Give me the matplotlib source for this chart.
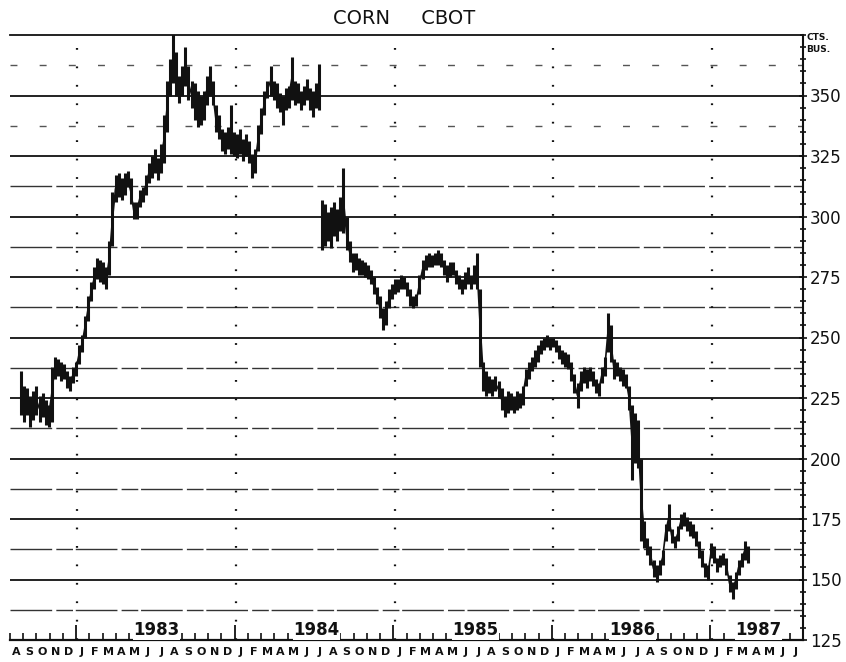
import numpy as np
import pandas as pd
import matplotlib
matplotlib.use("Agg")
import matplotlib.pyplot as plt
import matplotlib.transforms as mtransforms
from matplotlib.ticker import MultipleLocator, FixedLocator

# ---------------- data (weekly high/low, cents per bushel) ----------------
first_week = "1982-08-27"
axis_origin = "1982-08-01"
roll_after_week = 98          # July 1984 contract roll (gap in the line)

lows = [
    218, 215, 218, 213, 216, 218, 215, 217, 214, 213,
    215, 233, 234, 232, 233, 229, 228, 231, 234, 239,
    244, 250, 257, 265, 270, 274, 273, 272, 270, 276,
    288, 306, 308, 307, 309, 312, 305, 299, 299, 304,
    306, 309, 314, 316, 318, 315, 318, 322, 335, 350,
    355, 350, 347, 350, 354, 348, 345, 340, 337, 338,
    340, 346, 350, 346, 335, 332, 327, 326, 328, 326,
    325, 324, 326, 323, 325, 322, 316, 318, 327, 334,
    342, 349, 350, 348, 345, 343, 338, 344, 345, 348,
    346, 347, 344, 346, 348, 344, 341, 345, 344,
    # after July 1984 roll
    286, 288, 290, 287, 292, 290, 294, 293, 286, 281,
    277, 278, 276, 276, 275, 274, 272, 268, 264, 258,
    253, 255, 262, 266, 268, 269, 270, 270, 267, 263,
    262, 263, 268, 274, 278, 279, 279, 280, 280, 279,
    276, 273, 275, 276, 272, 270, 268, 270, 272, 270,
    272, 270,
    # after July 1985
    238, 228, 226, 227, 226, 228, 225, 220, 217, 219,
    220, 219, 220, 221, 222, 230, 233, 236, 238, 240,
    243, 245, 246, 245, 246, 244, 241, 239, 238, 237,
    232, 227, 221, 228, 231, 229, 232, 230, 227, 226,
    231, 234, 244, 240, 233, 234, 232, 230, 229, 220,
    191, 198, 196, 166, 163, 160, 156, 151, 149, 152,
    156, 166, 170, 165, 163, 166, 171, 172, 170, 168,
    167, 164, 159, 155, 151, 150, 159, 157, 153, 155,
    156, 152, 145, 142, 146, 152, 155, 158, 157,
]
highs = [
    236, 230, 229, 226, 228, 230, 226, 227, 224, 222,
    238, 242, 241, 240, 239, 236, 234, 238, 240, 247,
    251, 259, 267, 273, 279, 283, 282, 281, 279, 290,
    310, 317, 318, 316, 318, 319, 316, 306, 306, 311,
    312, 317, 322, 325, 328, 324, 330, 342, 356, 365,
    376, 368, 358, 362, 370, 362, 356, 355, 352, 350,
    352, 358, 362, 356, 346, 342, 336, 335, 337, 346,
    335, 334, 336, 332, 334, 331, 326, 328, 338, 345,
    352, 356, 362, 356, 355, 351, 350, 353, 354, 366,
    356, 355, 352, 354, 357, 353, 352, 355, 363,
    307, 305, 302, 304, 306, 303, 308, 320, 300, 290,
    285, 285, 283, 282, 281, 280, 278, 275, 271, 267,
    262, 265, 270, 272, 274, 274, 276, 275, 273, 270,
    267, 268, 276, 282, 284, 285, 284, 285, 286, 285,
    282, 280, 281, 281, 278, 276, 274, 277, 279, 276,
    280, 285,
    270, 240, 236, 234, 233, 234, 232, 229, 226, 228,
    227, 226, 228, 227, 230, 237, 240, 242, 245, 247,
    249, 250, 251, 250, 250, 249, 247, 245, 244, 243,
    240, 235, 231, 236, 238, 237, 238, 236, 233, 231,
    238, 242, 260, 255, 241, 240, 238, 237, 235, 230,
    222, 219, 216, 200, 174, 167, 164, 158, 156, 158,
    162, 173, 181, 171, 168, 172, 177, 178, 176, 174,
    173, 170, 166, 162, 157, 156, 165, 164, 159, 160,
    161, 159, 152, 149, 153, 158, 161, 166, 164,
]

month_letters = list("ASONDJFMAMJJ") * 5          # Aug 1982 .. Jul 1987
year_labels = ["1983", "1984", "1985", "1986", "1987"]
year_label_pos = [11.1, 23.2, 35.2, 47.1, 56.6]     # months from axis origin
year_boundaries = [5, 17, 29, 41, 53]               # Jan 1 of each year

price_ticks = [125, 150, 175, 200, 225, 250, 275, 300, 325, 350]

# ---------------- figure ----------------
W, H = 846, 662
fig = plt.figure(figsize=(W / 100, H / 100), dpi=100)
ax = fig.add_axes([10 / W, 22 / H, 793 / W, 605 / H])

dates = pd.date_range(first_week, periods=len(lows), freq="7D")
xm = (dates - pd.Timestamp(axis_origin)).days.values / 30.4375
lo = np.array(lows, float)
hi = np.array(highs, float)
mid = (lo + hi) / 2

ink = "#111111"

# grid: horizontal lines every 12.5 cents
for v in np.arange(137.5, 375, 12.5):
    if v % 25 == 0:
        ax.axhline(v, color=ink, lw=1.3, zorder=1)
    elif v >= 337.5:
        ax.axhline(v, color="#555555", lw=1.0, ls=(0, (5, 16)), zorder=1)
    else:
        ax.axhline(v, color="#333333", lw=1.0, ls=(0, (30, 3, 12, 2)), zorder=1)

# dotted year boundaries
for xb in year_boundaries:
    ax.axvline(xb + 0.1, color=ink, lw=1.6, ls=(0, (0.8, 7.5)), zorder=1)

# price bars
ax.vlines(xm, lo, hi, color=ink, lw=2.2, zorder=3)
r = roll_after_week + 1
ax.plot(xm[:r], mid[:r], color=ink, lw=1.2, zorder=3)
ax.plot(xm[r:], mid[r:], color=ink, lw=1.2, zorder=3)

ax.set_xlim(0, 60)
ax.set_ylim(125, 375)

# spines
ax.spines["left"].set_visible(False)
for s in ("right", "top", "bottom"):
    ax.spines[s].set_color(ink)
ax.spines["right"].set_linewidth(1.5)
ax.spines["top"].set_linewidth(1.3)
ax.spines["bottom"].set_linewidth(1.6)

# y axis on right
ax.yaxis.tick_right()
ax.yaxis.set_major_locator(FixedLocator(price_ticks))
ax.yaxis.set_minor_locator(MultipleLocator(5))
ax.tick_params(axis="y", which="major", direction="inout", length=6, width=1.2,
               labelsize=12, pad=2, colors=ink, left=False, right=True)
ax.tick_params(axis="y", which="minor", direction="inout", length=4, width=1.2,
               colors=ink, left=False, right=True)
ax.set_yticklabels([str(t) for t in price_ticks])

# x axis: month ticks (minor) and year ticks (major)
ax.xaxis.set_major_locator(FixedLocator(year_boundaries))
ax.xaxis.set_minor_locator(MultipleLocator(1))
ax.tick_params(axis="x", which="major", direction="in", length=11, width=1.3,
               labelbottom=False, colors=ink, top=False)
ax.tick_params(axis="x", which="minor", direction="in", length=5, width=1.2,
               colors=ink, top=False)

trans = mtransforms.blended_transform_factory(ax.transData, ax.transAxes)
for i, letter in enumerate(month_letters):
    ax.text(i + 0.45, -0.020, letter, transform=trans, ha="center", va="center",
            fontsize=8, fontweight="bold", color=ink, clip_on=False)
for lbl, xp in zip(year_labels, year_label_pos):
    ax.text(xp, 0.016, lbl, transform=trans, ha="center", va="center",
            fontsize=12, fontweight="bold", color=ink, zorder=4,
            bbox=dict(facecolor="white", edgecolor="none", pad=0.3))

# titles / units
fig.text(404 / W, 1 - 18 / H, "CORN     CBOT", ha="center", va="center",
         fontsize=14, color=ink)
fig.text(806 / W, 1 - 38 / H, "CTS.", ha="left", va="center", fontsize=6.5,
         fontweight="bold", color=ink)
fig.text(806 / W, 1 - 50 / H, "BUS.", ha="left", va="center", fontsize=6.5,
         fontweight="bold", color=ink)

fig.savefig("out.png", dpi=100, facecolor="white")
